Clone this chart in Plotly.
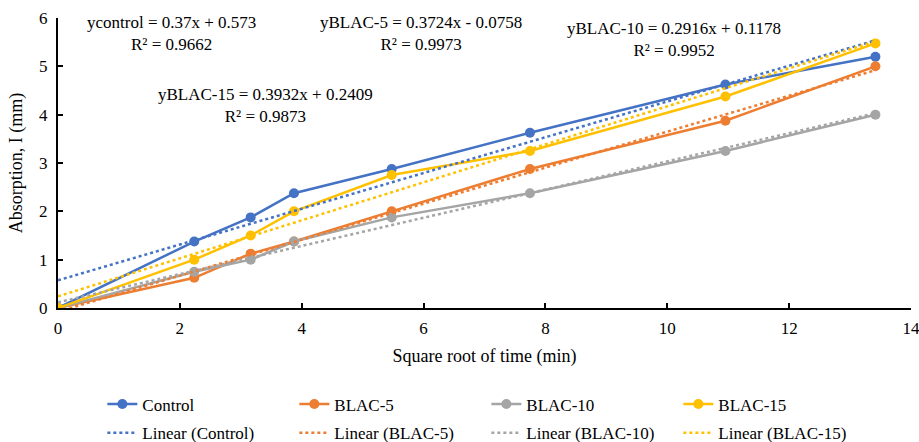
import plotly.graph_objects as go

x_vals = [0, 2.236, 3.162, 3.873, 5.477, 7.746, 10.954, 13.416]
control = [0, 1.375, 1.875, 2.375, 2.875, 3.625, 4.625, 5.2]
blac5 = [0, 0.625, 1.125, 1.375, 2.0, 2.875, 3.875, 5.0]
blac10 = [0, 0.75, 1.0, 1.375, 1.875, 2.375, 3.25, 4.0]
blac15 = [0, 1.0, 1.5, 2.0, 2.75, 3.25, 4.375, 5.475]

series_names = ["Control", "BLAC-5", "BLAC-10", "BLAC-15"]
slopes = [0.37, 0.3724, 0.2916, 0.3932]
intercepts = [0.573, -0.0758, 0.1178, 0.2409]
eq_texts = [
    "ycontrol = 0.37x + 0.573<br>R² = 0.9662",
    "yBLAC-5 = 0.3724x - 0.0758<br>R² = 0.9973",
    "yBLAC-10 = 0.2916x + 0.1178<br>R² = 0.9952",
    "yBLAC-15 = 0.3932x + 0.2409<br>R² = 0.9873",
]
colors = ["#4472C4", "#ED7D31", "#A5A5A5", "#FFC000"]

FONT = "Times New Roman"

fig = go.Figure()
for name, ys, c in zip(series_names, [control, blac5, blac10, blac15], colors):
    fig.add_trace(go.Scatter(
        x=x_vals, y=ys, name=name, mode="lines+markers",
        line=dict(color=c, width=2.5), marker=dict(color=c, size=10),
        legend="legend"))

x_end = [x_vals[0], x_vals[-1]]
for name, m, b, c in zip(series_names, slopes, intercepts, colors):
    fig.add_trace(go.Scatter(
        x=x_end, y=[m * xv + b for xv in x_end], name=f"Linear ({name})",
        mode="lines", line=dict(color=c, width=2.5, dash="dot"),
        legend="legend2"))

# annotation anchor positions (data coordinates)
ann_x = [1.87, 5.95, 10.11, 3.41]
ann_y = [5.68, 5.68, 5.56, 4.19]
for t, ax_, ay_ in zip(eq_texts, ann_x, ann_y):
    fig.add_annotation(x=ax_, y=ay_, xref="x", yref="y", text=t,
                       showarrow=False, align="center",
                       font=dict(family=FONT, size=17, color="#000"))

legend_common = dict(orientation="h", entrywidth=147, entrywidthmode="pixels",
                     font=dict(family=FONT, size=17, color="#000"),
                     bgcolor="rgba(0,0,0,0)", xanchor="left", yanchor="middle",
                     itemwidth=30, yref="container")

fig.update_layout(
    width=919, height=442,
    margin=dict(l=58, r=8, t=18, b=134, autoexpand=False),
    plot_bgcolor="white", paper_bgcolor="white",
    font=dict(family=FONT, size=17, color="#000"),
    showlegend=True,
    legend=dict(x=0.052, y=0.085, **legend_common),
    legend2=dict(x=0.052, y=0.02, **legend_common),
    xaxis=dict(range=[0, 14], dtick=2, tick0=0, showgrid=False, zeroline=False,
               showline=True, linecolor="black", linewidth=2,
               ticks="inside", ticklen=5, tickwidth=1.5, tickcolor="black",
               ticklabelstandoff=4, ticklabeloverflow="allow",
               tickfont=dict(family=FONT, size=17),
               title=dict(text="Square root of time (min)",
                          font=dict(family=FONT, size=18), standoff=12)),
    yaxis=dict(range=[0, 6], dtick=1, tick0=0, showgrid=False, zeroline=False,
               showline=True, linecolor="black", linewidth=2,
               ticks="inside", ticklen=5, tickwidth=1.5, tickcolor="black",
               ticklabelstandoff=5, ticklabeloverflow="allow",
               tickfont=dict(family=FONT, size=17),
               title=dict(text="Absorption, I (mm)",
                          font=dict(family=FONT, size=18), standoff=12)),
)

fig.write_html("out.html")
